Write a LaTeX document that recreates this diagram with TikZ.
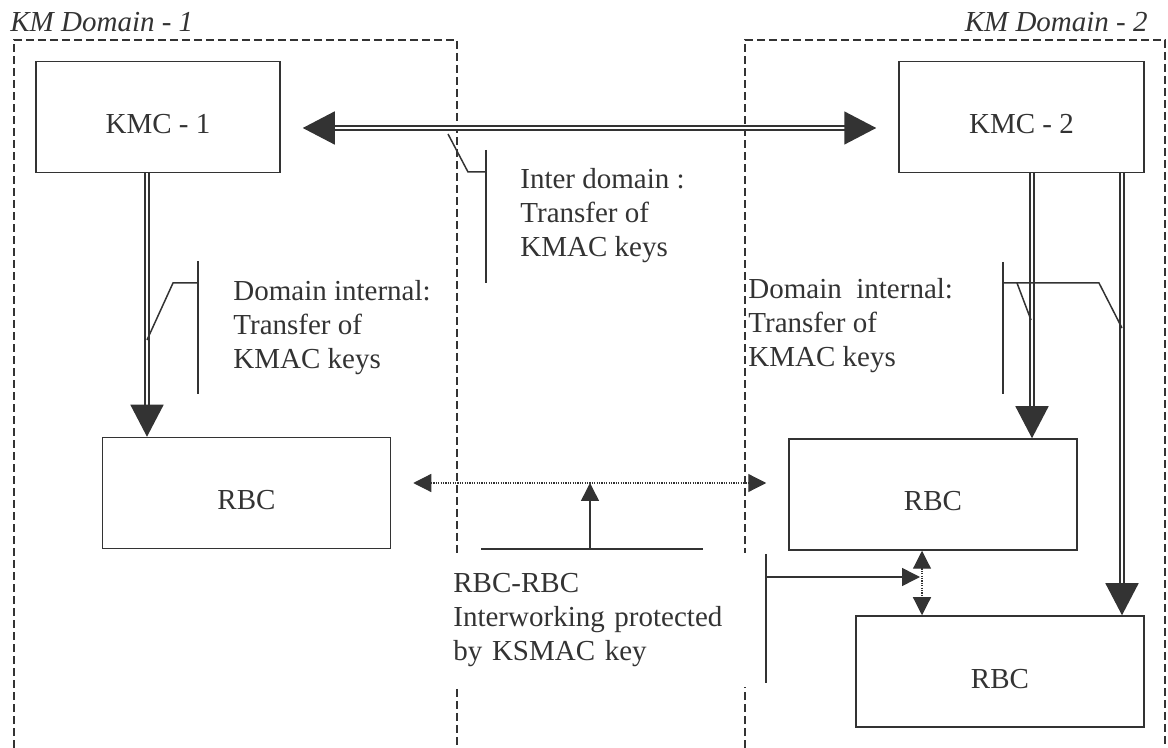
\documentclass[tikz,border=0pt]{standalone}
\usepackage{fontspec}
\setmainfont{Liberation Serif}
\usetikzlibrary{arrows.meta}
\definecolor{ink}{HTML}{333333}
\tikzset{box/.style={rectangle,draw=ink,line width=0.75pt,inner sep=0pt,text height=16.5pt,text depth=0pt,minimum width=144pt,minimum height=55.5pt,text=ink,font=\fontsize{14.5}{17}\selectfont},lbl/.style={align=left,anchor=north west,inner sep=0pt,text=ink,font=\fontsize{14.5}{17}\selectfont},kmdomain/.style={draw=ink,line width=0.8pt,dash pattern=on 3.8pt off 2.2pt},kline/.style={draw=ink,line width=0.75pt,double,double distance=1.4pt},bigtip/.style={-{Triangle[length=16pt,width=16.5pt]}},smalltip/.style={-{Triangle[length=9pt,width=9pt]}},dotline/.style={draw=ink,line width=0.6pt,dash pattern=on 0.6pt off 0.6pt},leader/.style={draw=ink,line width=0.75pt}}

\begin{document}
\begin{tikzpicture}[x=0.5pt,y=-0.5pt]
\useasboundingbox (0,0) rectangle (1168,748);
\draw[kmdomain] (14,748) |- (457,40) -- (457,748);
\draw[kmdomain] (745,748) |- (1165,40) -- (1165,748);
\node[lbl,anchor=base west,font=\fontsize{14.5}{17}\selectfont\itshape] (dom1) at (10,32) {KM Domain - 1};
\node[lbl,anchor=base east,font=\fontsize{14.5}{17}\selectfont\itshape] (dom2) at (1148,32) {KM Domain - 2};
\node[box,minimum width=122pt] (kmc1) at (158,117) {KMC - 1};
\node[box,minimum width=122.5pt] (kmc2) at (1021.5,117) {KMC - 2};
\node[box] (rbc1) at (246.5,493) {RBC};
\node[box] (rbc2) at (933,494.5) {RBC};
\node[box] (rbc3) at (1000,671.5) {RBC};
\draw[kline,{Triangle[length=16pt,width=16.5pt]}-{Triangle[length=16pt,width=16.5pt]},shorten <=11pt,shorten >=11pt] ([yshift=-5.5pt]kmc1.east) -- ([yshift=-5.5pt]kmc2.west);
\draw[kline,bigtip] ([xshift=-5.5pt]kmc1.south) -- ([xshift=-5.5pt]kmc1.south |- rbc1.north);
\draw[kline,bigtip] ([xshift=5.25pt]kmc2.south) -- ([xshift=5.25pt]kmc2.south |- rbc2.north);
\draw[kline,bigtip] ([xshift=50.25pt]kmc2.south) -- ([xshift=50.25pt]kmc2.south |- rbc3.north);
\draw[dotline,{Triangle[length=9pt,width=9pt]}-{Triangle[length=9pt,width=9pt]},shorten <=11pt,shorten >=11pt] ([yshift=5pt]rbc1.east) -- ([yshift=5pt]rbc1.east -| rbc2.west);
\draw[dotline,{Triangle[length=9pt,width=9pt]}-{Triangle[length=9pt,width=9pt]}] ([xshift=-5.5pt]rbc2.south) -- ([xshift=-5.5pt]rbc2.south |- rbc3.north);
\coordinate (inter) at (486,172);
\coordinate (intl) at (198,283);
\coordinate (intr) at (1003,283);
\coordinate (rr) at (590,549);
\coordinate (rv) at (766,577);
\draw[leader] (448,134) -- (468,172) -- (inter);
\draw[leader] (486,150) -- (486,283);
\draw[leader] (147,340) -- (173,283) -- (intl);
\draw[leader] (198,261) -- (198,394);
\draw[leader] (1003,262) -- (1003,394);
\draw[leader] (intr) -- (1099,283) -- (1122,328);
\draw[leader] (1017,283) -- (1031,320);
\draw[leader] (481,549) -- (703,549);
\draw[leader,smalltip] (rr) -- (590,483);
\draw[leader] (766,554) -- (766,683);
\draw[leader,smalltip] (rv) -- (920,577);
\node[lbl] (lab1) at (520,168) {Inter domain :\\Transfer of\\KMAC keys};
\node[lbl] (lab2) at (233,280) {Domain internal:\\Transfer of\\KMAC keys};
\node[lbl] (lab3) at (748,278) {Domain\ \ internal:\\Transfer of\\KMAC keys};
\node[lbl,fill=white,inner ysep=10pt,text width=150pt] (lab4) at (453,553) {RBC-RBC\\Interworking protected\\by KSMAC key};
\end{tikzpicture}
\end{document}
